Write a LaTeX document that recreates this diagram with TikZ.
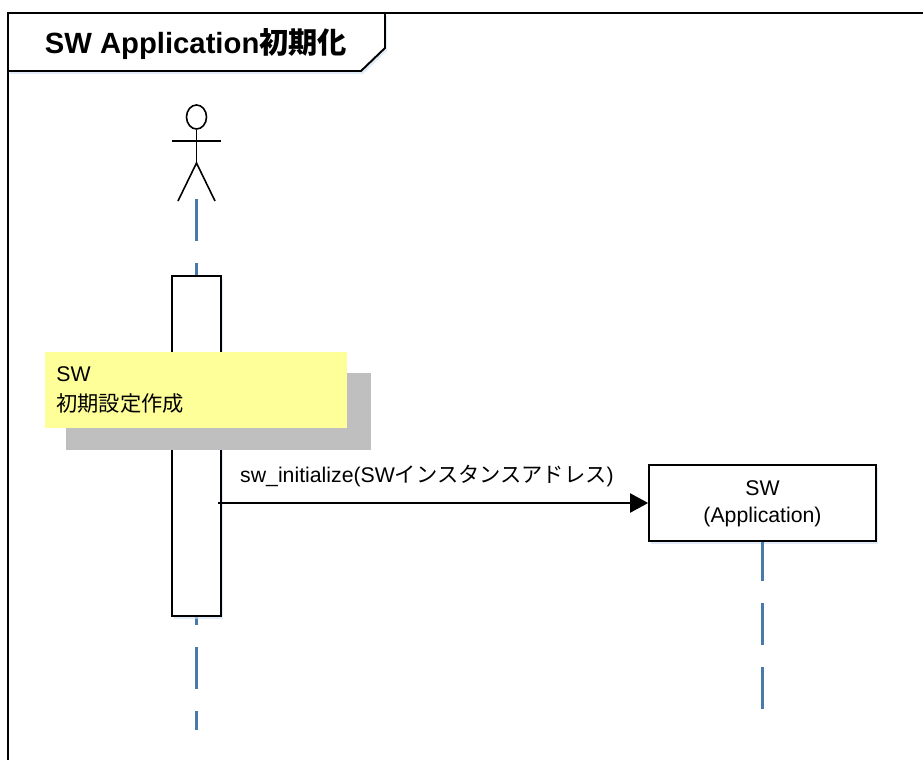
\documentclass[tikz,border=0pt]{standalone}
\usepackage{fontspec}
\setmainfont{Liberation Sans}
\newfontfamily\cjk{Noto Sans CJK JP}
\usepackage{xcolor}
\usetikzlibrary{shapes.geometric,shadows,arrows.meta}
\definecolor{lifeblue}{RGB}{72,122,170}
\definecolor{noteyellow}{RGB}{255,255,153}
\definecolor{notegray}{RGB}{191,191,191}
\definecolor{glowblue}{RGB}{205,222,242}
\tikzset{
  glow/.style={drop shadow={shadow xshift=1.2pt,shadow yshift=-1.6pt,fill=glowblue,opacity=0.6}},
  lifeline/.style={draw=lifeblue,line width=1.2pt,dash pattern=on 0.84cm off 0.44cm},
  stick/.style={draw=black,line width=0.9pt},
  bar/.style={draw=black,fill=white,line width=1pt,inner sep=0pt,glow},
  plain/.style={inner sep=0pt,font=\fontsize{12.1pt}{15.4pt}\selectfont},
}
\begin{document}
\begin{tikzpicture}[x=0.02cm,y=-0.02cm]
    \useasboundingbox (0,0) rectangle (923,760);

    % Outer frame and title tab
    \draw[line width=1.2pt] (8,760) -- (8,13) -- (923,13);
    \draw[line width=1.1pt,fill=white,glow] (8,13) -- (385,13) -- (385,48) -- (361,71) -- (8,71) -- cycle;
    \node[plain,font=\fontsize{16.65pt}{18pt}\selectfont\bfseries] (title) at (196,44) {SW Application{\cjk 初期化}};

    % Actor
    \node[stick,ellipse,minimum width=0.4cm,minimum height=0.48cm,inner sep=0pt] (head) at (196.5,117) {};
    \coordinate (armL) at (172,141);
    \coordinate (armR) at (221,141);
    \coordinate (hip) at (196.5,163);
    \coordinate (legL) at (178,201);
    \coordinate (legR) at (215,201);
    \draw[stick] (head.south) -- (hip);
    \draw[stick] (armL) -- (armR);
    \draw[stick] (legL) -- (hip) -- (legR);

    % Lifelines
    \coordinate (actorTop) at (196.5,199);
    \coordinate (actorEnd) at (196.5,730);
    \draw[lifeline] (actorTop) -- (actorEnd);

    \node[bar,minimum width=0.97cm,minimum height=6.8cm] (activation) at (196.5,446) {};

    % Note with its grey block
    \node[fill=notegray,inner sep=0pt,minimum width=6.1cm,minimum height=1.54cm] (noteback) at (218.5,411.5) {};
    \node[fill=noteyellow,inner sep=0pt,minimum width=6.04cm,minimum height=1.52cm] (note) at (196,390) {};
    \node[plain,anchor=west,align=left] (notetext) at (56,390) {SW\\[1.5pt]{\cjk 初期設定作成}};

    % Application box
    \node[bar,minimum width=4.54cm,minimum height=1.52cm,align=center,text depth=2pt,font=\fontsize{12.1pt}{15.4pt}\selectfont] (appbox) at (762.5,503) {SW\\(Application)};
    \coordinate (appEnd) at (762.5,709);
    \draw[lifeline,dash phase=0.06cm] (appbox.south) -- (appEnd);

    % Message
    \coordinate (callstart) at (218,503);
    \draw[line width=1.2pt,-{Triangle[length=0.36cm,width=0.38cm]}] (callstart) -- (appbox.west);
    \node[plain] (calltext) at (427,476) {sw\_initialize(SW{\cjk インスタンスアドレス})};
\end{tikzpicture}
\end{document}
